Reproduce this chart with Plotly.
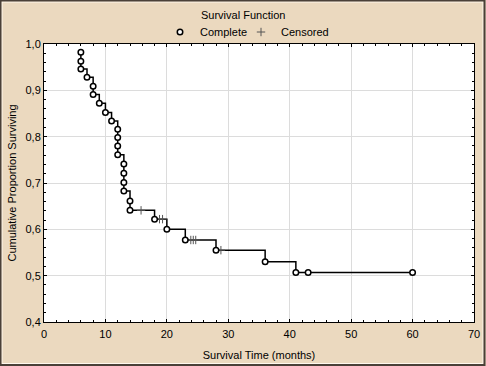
import plotly.graph_objects as go

# ---- data ----
complete_t = [6, 6, 6, 7, 8, 8, 9, 10, 11, 12, 12, 12, 12, 13, 13, 13, 13, 14, 14,
              18, 20, 23, 28, 36, 41, 43, 60]
complete_s = [0.982, 0.963, 0.946, 0.928, 0.909, 0.891, 0.872, 0.852, 0.834, 0.816,
              0.798, 0.780, 0.761, 0.741, 0.721, 0.701, 0.683, 0.661, 0.641,
              0.622, 0.600, 0.577, 0.555, 0.530, 0.507, 0.507, 0.507]
censored_t = [15.8, 18.8, 19.3, 23.9, 24.3, 24.7, 28.8]
censored_s = [0.641, 0.622, 0.622, 0.577, 0.577, 0.577, 0.555]

x_ticks = [0, 10, 20, 30, 40, 50, 60, 70]
y_ticks = [0.4, 0.5, 0.6, 0.7, 0.8, 0.9, 1.0]
y_ticktext = ["0,4", "0,5", "0,6", "0,7", "0,8", "0,9", "1,0"]

title_text = "Survival Function"
x_title = "Survival Time (months)"
y_title = "Cumulative Proportion Surviving"

BG = "#EBD9BF"
FONT = "Liberation Sans, Arial, sans-serif"

W, H = 486, 366
ML, MR, MT, MB = 44, 12, 44, 44
PW, PH = W - ML - MR, H - MT - MB


def px_x(p):
    return (p - ML) / PW


def px_y(p):
    return 1 - (p - MT) / PH


fig = go.Figure()

# step line (Kaplan-Meier path)
fig.add_trace(go.Scatter(
    x=complete_t, y=complete_s, mode="lines", line_shape="hv",
    line=dict(color="black", width=1.5), showlegend=False, hoverinfo="skip"))

fig.add_trace(go.Scatter(
    x=censored_t, y=censored_s, mode="markers", name="Censored", legend="legend2",
    marker=dict(symbol="cross-thin", size=6, color="#555555",
                line=dict(color="#555555", width=1))))

fig.add_trace(go.Scatter(
    x=complete_t, y=complete_s, mode="markers", name="Complete", legend="legend",
    marker=dict(symbol="circle", size=5.5, color="white",
                line=dict(color="black", width=1.5))))

axis_common = dict(
    showline=True, linecolor="black", linewidth=1, mirror="ticks",
    ticks="inside", ticklen=3, tickcolor="black",
    showgrid=True, gridcolor="#DCDCDC", gridwidth=1,
    zeroline=False, automargin=False,
    tickfont=dict(family=FONT, size=11, color="black"),
)

fig.update_xaxes(
    range=[0, 70], tickvals=x_ticks, ticklabelstandoff=2,
    minor=dict(ticks="inside", ticklen=2, dtick=2, tickcolor="black", showgrid=False),
    title=dict(text=x_title, font=dict(family=FONT, size=11, color="black"), standoff=12),
    **axis_common)
fig.update_yaxes(
    range=[0.4, 1.0], tickvals=y_ticks, ticktext=y_ticktext,
    minor=dict(ticks="inside", ticklen=2, dtick=0.02, tickcolor="black", showgrid=False),
    title=dict(text=y_title, font=dict(family=FONT, size=11, color="black"), standoff=6),
    **axis_common)

# outer bevelled frame (paper coords relative to the plot area)
fx0, fx1 = -ML / PW, (W - ML) / PW
fy0, fy1 = -MB / PH, (H - MB) / PH
px = 1.0 / PW
py = 1.0 / PH
shapes = [
    dict(type="rect", xref="paper", yref="paper",
         x0=fx0 + 2 * px, x1=fx1 - 3 * px, y0=fy0 + 2.5 * py, y1=fy1 - 2 * py,
         line=dict(color="#FFF8EE", width=1), layer="below"),
    dict(type="rect", xref="paper", yref="paper",
         x0=fx0 + 0.5 * px, x1=fx1 - 1.5 * px, y0=fy0 + 1 * py, y1=fy1 - 0.5 * py,
         line=dict(color="#4A4038", width=2), layer="below"),
]

leg_common = dict(orientation="h", yanchor="middle", bgcolor="rgba(0,0,0,0)",
                  font=dict(family=FONT, size=11, color="black"),
                  itemwidth=30, xanchor="left")

fig.update_layout(
    width=W, height=H,
    margin=dict(l=ML, r=MR, t=MT, b=MB, autoexpand=False),
    paper_bgcolor=BG, plot_bgcolor="white",
    font=dict(family=FONT, size=11, color="black"),
    shapes=shapes,
    legend=dict(x=px_x(160), y=px_y(32), **leg_common),
    legend2=dict(x=px_x(241), y=px_y(32), **leg_common),
    annotations=[dict(text=title_text, xref="paper", yref="paper",
                      x=px_x(243), y=px_y(15), xanchor="center", yanchor="middle",
                      showarrow=False, font=dict(family=FONT, size=11, color="black"))],
)

fig.write_html("out.html", config={"displayModeBar": False},
               post_script="document.body.style.margin='0px';document.body.style.padding='0px';")
